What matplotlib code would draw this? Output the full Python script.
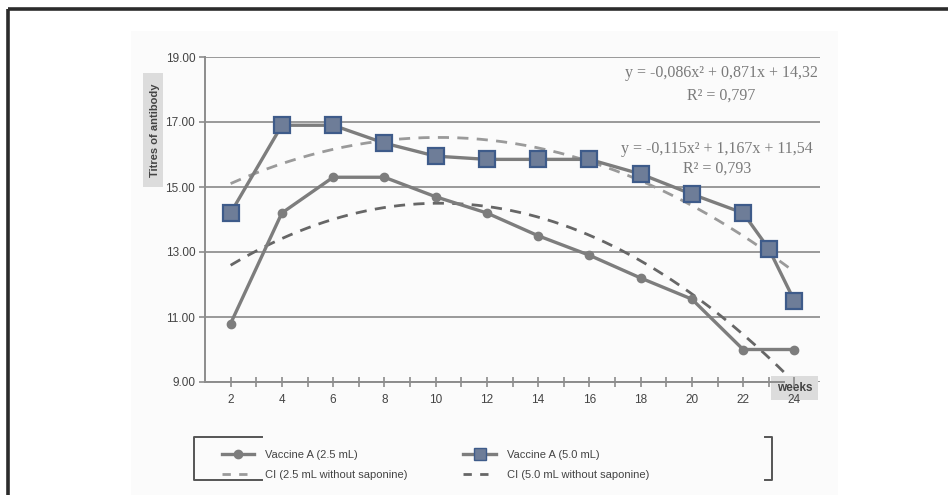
import matplotlib.pyplot as plt
from matplotlib.patches import Rectangle
from matplotlib.lines import Line2D
import numpy as np

plt.rcParams['font.family'] = ['Liberation Sans', 'DejaVu Sans']

# measured titres
weeks_25 = [2, 4, 6, 8, 10, 12, 14, 16, 18, 20, 22, 24]
titre_25 = [10.8, 14.2, 15.3, 15.3, 14.7, 14.2, 13.5, 12.9, 12.2, 11.55, 10.0, 10.0]
weeks_50 = [2, 4, 6, 8, 10, 12, 14, 16, 18, 20, 22, 23, 24]
titre_50 = [14.2, 16.9, 16.9, 16.35, 15.95, 15.85, 15.85, 15.85, 15.4, 14.78, 14.2, 13.1, 11.5]

# quadratic trend lines (x = sample number, one sample every 2 weeks)
fit_a = [-0.086, 0.871, 14.32]
r2_a = 0.797
fit_b = [-0.115, 1.167, 11.54]
r2_b = 0.793
n_samples = 12

yticks = [9, 11, 13, 15, 17, 19]
xticks = [2, 4, 6, 8, 10, 12, 14, 16, 18, 20, 22, 24]

W, H = 948, 495
fig = plt.figure(figsize=(W / 100, H / 100), dpi=100)
fig.patch.set_facecolor('white')

# background layer in pixel coordinates: frame, panel, label box, legend brackets
bg = fig.add_axes([0, 0, 1, 1], zorder=0)
bg.set_xlim(0, W)
bg.set_ylim(H, 0)
bg.axis('off')
bg.add_patch(Rectangle((131, 31), 707, 470, facecolor='#fbfbfb', edgecolor='none'))
bg.plot([8, W], [9, 9], color='#2b2b2b', lw=2.6, solid_capstyle='butt')
bg.plot([8, 8], [9, H], color='#2b2b2b', lw=2.6, solid_capstyle='butt')
bg.plot([262, 194, 194, 262], [437, 437, 480, 480], color='#555555', lw=1.4)
bg.plot([765, 772, 772, 765], [437, 437, 480, 480], color='#555555', lw=1.4)
bg.add_patch(Rectangle((143, 73), 20, 114, facecolor='#dcdcdc', edgecolor='none'))
bg.text(155, 130, 'Titres of antibody', rotation=90, ha='center', va='center',
        fontsize=8, fontweight='bold', color='#444444')

ax = fig.add_axes([205 / W, 1 - 382 / H, 615 / W, 325 / H], zorder=1)
ax.set_facecolor('none')
ax.set_xlim(1, 25)
ax.set_ylim(9, 19)

# trend curves (kept under the "weeks" box)
idx = np.linspace(1, n_samples, 200)
curve_a = np.polyval(fit_a, idx)
curve_b = np.polyval(fit_b, idx)
ax.plot(2 * idx, curve_a, color='#9a9a9a', lw=2.0, dashes=(4, 3), zorder=1.5)
ax.plot(2 * idx, curve_b, color='#666666', lw=2.0, dashes=(4, 3), zorder=1.5)

ax.plot(weeks_25, titre_25, color='#7d7d7d', lw=2.4, marker='o', ms=6,
        mfc='#7d7d7d', mec='#7d7d7d', zorder=4)
ax.plot(weeks_50, titre_50, color='#7d7d7d', lw=2.4, marker='s', ms=11,
        mfc='#6e7d98', mec='#3e5b8a', mew=1.6, zorder=5)

ax.set_yticks(yticks)
ax.set_yticklabels([f'{v:.2f}' for v in yticks])
ax.set_xticks(xticks)
ax.set_xticks(range(3, 25, 2), minor=True)
ax.grid(axis='y', color='#999999', lw=1.4)
ax.set_axisbelow(True)
ax.xaxis.set_zorder(2.5)  # tick labels over the "weeks" box
for s in ['top', 'right']:
    ax.spines[s].set_visible(False)
for s in ['left', 'bottom']:
    ax.spines[s].set_color('#8c8c8c')
    ax.spines[s].set_linewidth(1.4)
ax.spines['bottom'].set_bounds(1, 23.6)
ax.tick_params(axis='y', length=4, width=1.2, color='#8c8c8c', labelsize=8.5,
               labelcolor='#444444', pad=3)
ax.tick_params(axis='x', which='both', direction='inout', length=7, width=1.2,
               color='#8c8c8c', labelsize=8.5, labelcolor='#444444', pad=5)

ax.text(0.959, -0.018, 'weeks', transform=ax.transAxes, ha='center', va='center',
        fontsize=8.5, fontweight='bold', color='#444444', zorder=2,
        bbox=dict(boxstyle='square,pad=0.5', fc='#dcdcdc', ec='none'))

def fmt(v, d):
    return f'{abs(v):.{d}f}'.replace('.', ',')

eq_a = f'y = -{fmt(fit_a[0], 3)}x² + {fmt(fit_a[1], 3)}x + {fmt(fit_a[2], 2)}'
eq_b = f'y = -{fmt(fit_b[0], 3)}x² + {fmt(fit_b[1], 3)}x + {fmt(fit_b[2], 2)}'
serif = dict(family=['Liberation Serif', 'DejaVu Serif'], fontsize=11.5, color='#7a7a7a',
             ha='center', va='center', transform=ax.transAxes)
ax.text(0.840, 0.951, eq_a, **serif)
ax.text(0.840, 0.880, f'R² = {fmt(r2_a, 3)}', **serif)
ax.text(0.833, 0.717, eq_b, **serif)
ax.text(0.833, 0.655, f'R² = {fmt(r2_b, 3)}', **serif)

handles = [
    Line2D([], [], color='#7d7d7d', lw=2.4, marker='o', ms=6),
    Line2D([], [], color='#9a9a9a', lw=2.0, dashes=(3, 3)),
    Line2D([], [], color='#7d7d7d', lw=2.4, marker='s', ms=9, mfc='#6e7d98', mec='#3e5b8a'),
    Line2D([], [], color='#666666', lw=2.0, dashes=(3, 3)),
]
labels = ['Vaccine A (2.5 mL)', 'CI (2.5 mL without saponine)',
          'Vaccine A (5.0 mL)', 'CI (5.0 mL without saponine)']
fig.legend(handles, labels, ncol=2, loc='upper left',
           bbox_to_anchor=(222 / W, 1 - 450 / H), frameon=False, fontsize=8,
           handlelength=2.9, handletextpad=1.0, columnspacing=5.0,
           labelspacing=0.9, borderpad=0, borderaxespad=0, labelcolor='#444444')

fig.savefig('out.png', dpi=100)
